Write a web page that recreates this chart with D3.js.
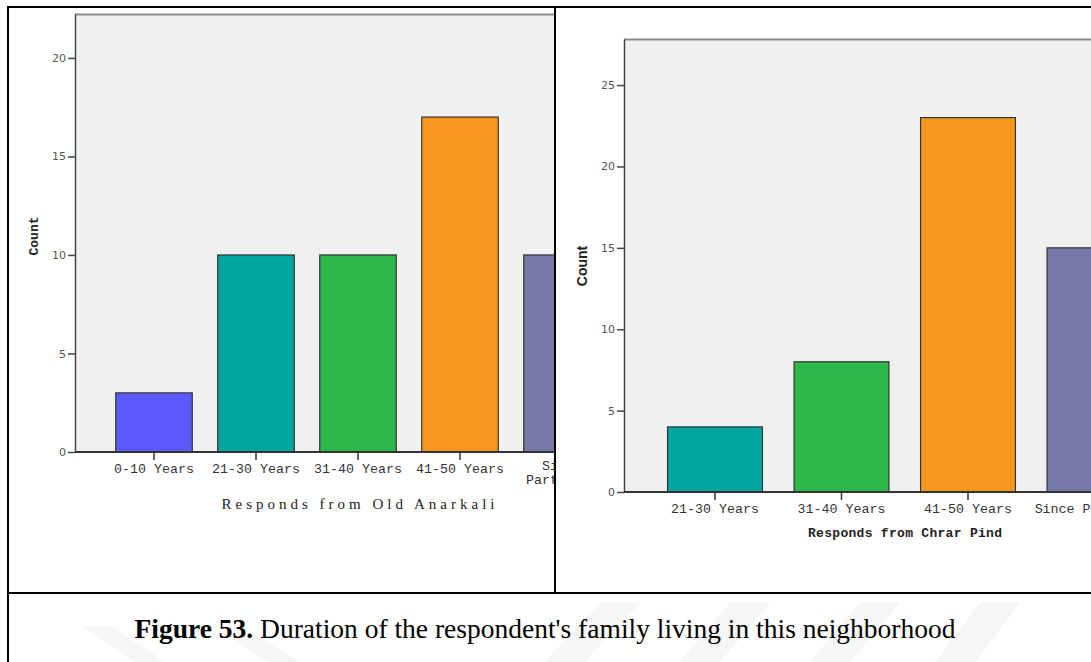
<!DOCTYPE html>
<html>
<head>
<meta charset="utf-8">
<script src="https://cdn.jsdelivr.net/npm/d3@7"></script>
<style>
  body { margin: 0; background: #fff; }
  svg { display: block; }
</style>
</head>
<body>
<script>
    var w = 1091;
    var h = 662;

    // chart values
    var leftCategories = ["0-10 Years", "21-30 Years", "31-40 Years", "41-50 Years", "Since Partition"];
    var leftCounts = [3, 10, 10, 17, 10];
    var rightCategories = ["21-30 Years", "31-40 Years", "41-50 Years", "Since Partition"];
    var rightCounts = [4, 8, 23, 15];
    var leftTicks = [0, 5, 10, 15, 20];
    var rightTicks = [0, 5, 10, 15, 20, 25];

    var catColor = d3.scaleOrdinal()
        .domain(["0-10 Years", "21-30 Years", "31-40 Years", "41-50 Years", "Since Partition"])
        .range(["#5b5bff", "#00a5a2", "#2eb84a", "#f8991f", "#7878a8"]);

    var svg = d3.select("body")
                .append("svg")
                .attr("width", w)
                .attr("height", h);

    // faint watermark shapes behind the caption
    var marks = [
        [[84, 627], [112, 627], [165, 662], [135, 662]],
        [[214, 627], [242, 627], [300, 662], [268, 662]],
        [[600, 603], [640, 603], [585, 662], [545, 662]],
        [[730, 603], [770, 603], [720, 662], [680, 662]],
        [[860, 603], [900, 603], [850, 662], [810, 662]],
        [[980, 603], [1020, 603], [975, 662], [935, 662]]
    ];
    svg.selectAll("polygon.wm")
       .data(marks)
       .enter()
       .append("polygon")
       .attr("class", "wm")
       .attr("points", d => d.map(p => p.join(",")).join(" "))
       .attr("fill", "#f6f6f6");

    function drawChart(cfg) {
        var clipId = "clip" + cfg.id;
        svg.append("clipPath").attr("id", clipId)
           .append("rect")
           .attr("x", cfg.clip[0]).attr("y", 0)
           .attr("width", cfg.clip[1] - cfg.clip[0]).attr("height", h);

        var g = svg.append("g").attr("clip-path", "url(#" + clipId + ")");

        var x = d3.scaleBand()
                  .domain(cfg.categories)
                  .range(cfg.bandRange)
                  .paddingInner(0.25)
                  .paddingOuter(0.125);

        var y = d3.scaleLinear()
                  .domain([0, cfg.yMax])
                  .range([cfg.bottom, cfg.top]);

        // plot background
        g.append("rect")
         .attr("x", cfg.left).attr("y", cfg.top)
         .attr("width", cfg.right - cfg.left).attr("height", cfg.bottom - cfg.top)
         .attr("fill", "#f0f0f0");

        // top border
        g.append("line")
         .attr("x1", cfg.left).attr("x2", cfg.right)
         .attr("y1", cfg.top + 0.5).attr("y2", cfg.top + 0.5)
         .attr("stroke", "#8a8a8a").attr("stroke-width", 2);

        // bars
        g.selectAll("rect.bar")
         .data(cfg.categories)
         .enter()
         .append("rect")
         .attr("class", "bar")
         .attr("x", d => x(d))
         .attr("y", (d, i) => y(cfg.counts[i]))
         .attr("width", x.bandwidth())
         .attr("height", (d, i) => y(0) - y(cfg.counts[i]))
         .attr("fill", d => catColor(d))
         .attr("stroke", "#333")
         .attr("stroke-width", 1.2);

        // y axis
        var yAxis = g.append("g")
         .attr("transform", "translate(" + cfg.left + ",0)")
         .call(d3.axisLeft(y).tickValues(cfg.ticks).tickSize(7).tickPadding(2).tickSizeOuter(0));
        yAxis.select(".domain").attr("stroke", "#444").attr("stroke-width", 1.5);
        yAxis.selectAll(".tick line").attr("stroke", "#444").attr("stroke-width", 1.5);
        yAxis.selectAll(".tick text")
             .attr("fill", "#555")
             .style("font-family", "'DejaVu Sans', sans-serif")
             .style("font-size", "11px");

        // x axis
        var xAxis = g.append("g")
         .attr("transform", "translate(0," + cfg.bottom + ")")
         .call(d3.axisBottom(x).tickSize(8).tickSizeOuter(0).tickFormat(""));
        xAxis.select(".domain").remove();
        xAxis.selectAll(".tick line").attr("stroke", "#333").attr("stroke-width", 1.5);
        g.append("line")
         .attr("x1", cfg.left).attr("x2", cfg.right)
         .attr("y1", cfg.bottom).attr("y2", cfg.bottom)
         .attr("stroke", "#333").attr("stroke-width", 1.8);

        // category labels
        cfg.categories.forEach(function(c, i) {
            var lines = cfg.wrap && c === "Since Partition" ? ["Since", "Partition"] : [c];
            var t = g.append("text")
             .attr("x", x(c) + x.bandwidth() / 2)
             .attr("y", cfg.bottom + (lines.length > 1 ? 18 : 21))
             .attr("text-anchor", "middle")
             .attr("fill", "#333")
             .style("font-family", "'Liberation Mono', monospace")
             .style("font-size", "13.3px");
            lines.forEach(function(l, k) {
                t.append("tspan")
                 .attr("x", x(c) + x.bandwidth() / 2)
                 .attr("dy", k === 0 ? 0 : 14)
                 .text(l);
            });
        });

        // axis titles
        g.append("text")
         .attr("x", cfg.xTitle[0]).attr("y", cfg.xTitle[1])
         .attr("text-anchor", "middle")
         .attr("fill", "#222")
         .attr("textLength", cfg.xTitle[2])
         .attr("lengthAdjust", "spacing")
         .style("font-family", cfg.xTitleFont)
         .style("font-weight", cfg.xTitleWeight)
         .style("font-size", cfg.xTitleSize)
         .text(cfg.xTitleText);

        g.append("text")
         .attr("transform", "translate(" + cfg.yTitle[0] + "," + cfg.yTitle[1] + ") rotate(-90)")
         .attr("text-anchor", "middle")
         .attr("fill", "#222")
         .style("font-family", cfg.yTitleFont)
         .style("font-weight", "bold")
         .style("font-size", cfg.yTitleSize)
         .text("Count");
    }

    drawChart({
        id: "L", clip: [8, 554],
        categories: leftCategories, counts: leftCounts, ticks: leftTicks,
        left: 75, right: 641, top: 14, bottom: 452, yMax: 22.23,
        bandRange: [103, 613], wrap: true,
        xTitle: [358, 509, 273], xTitleText: "Responds from Old Anarkali",
        xTitleFont: "'Liberation Serif', serif", xTitleWeight: "normal", xTitleSize: "15px",
        yTitle: [38, 236], yTitleFont: "'Liberation Mono', monospace", yTitleSize: "13px"
    });

    drawChart({
        id: "R", clip: [556, w],
        categories: rightCategories, counts: rightCounts, ticks: rightTicks,
        left: 624, right: 1186, top: 39, bottom: 492, yMax: 27.83,
        bandRange: [651.75, 1157.75], wrap: false,
        xTitle: [905, 537, 194], xTitleText: "Responds from Chrar Pind",
        xTitleFont: "'Liberation Mono', monospace", xTitleWeight: "bold", xTitleSize: "13px",
        yTitle: [587, 266], yTitleFont: "'Liberation Sans', Arial, sans-serif", yTitleSize: "14px"
    });

    // table frame
    var frame = svg.append("g").attr("stroke", "#000").attr("stroke-width", 2);
    frame.append("line").attr("x1", 7).attr("x2", w).attr("y1", 7).attr("y2", 7);
    frame.append("line").attr("x1", 8).attr("x2", 8).attr("y1", 6).attr("y2", h);
    frame.append("line").attr("x1", 555).attr("x2", 555).attr("y1", 6).attr("y2", 593);
    frame.append("line").attr("x1", 7).attr("x2", w).attr("y1", 593).attr("y2", 593);

    // caption
    var cap = svg.append("text")
        .attr("x", 545).attr("y", 638)
        .attr("text-anchor", "middle")
        .attr("fill", "#000")
        .style("font-family", "'Liberation Serif', 'Times New Roman', serif")
        .style("font-size", "27.5px");
    cap.append("tspan").style("font-weight", "bold").text("Figure 53.");
    cap.append("tspan").text(" Duration of the respondent's family living in this neighborhood");
</script>
</body>
</html>
